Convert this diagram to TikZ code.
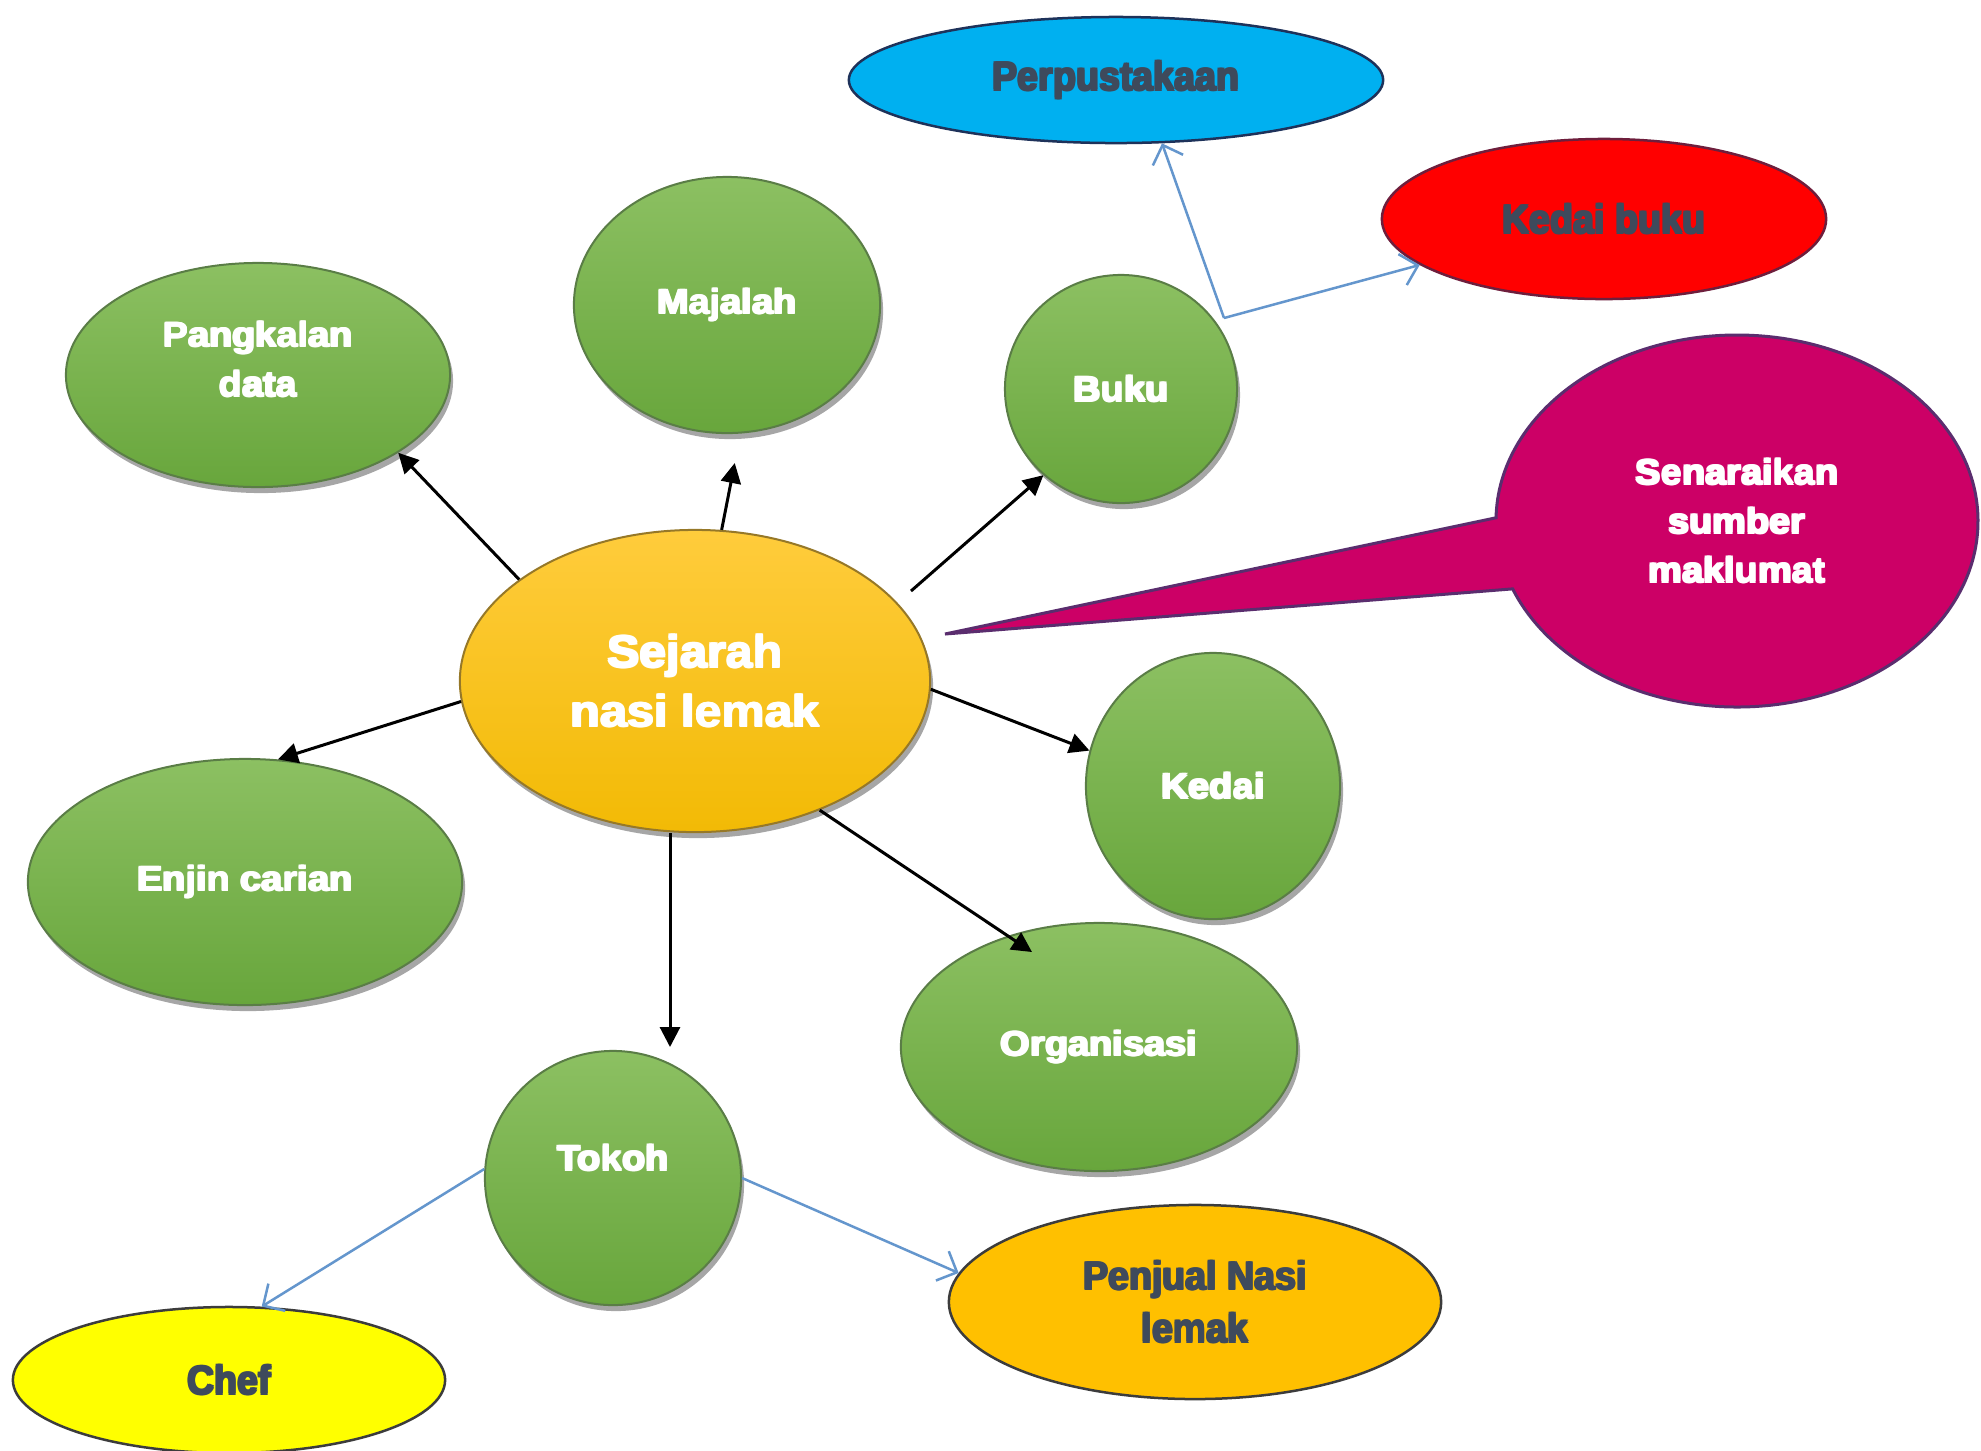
\documentclass[tikz,border=0pt]{standalone}
\usepackage{fontspec}
\setmainfont{Liberation Sans}
\newfontfamily\wfont{Liberation Sans}[FakeStretch=1.08]
\newfontfamily\dfont{Liberation Sans}[FakeStretch=0.93]
\usetikzlibrary{shapes.geometric, arrows.meta, shadows}
\newcommand\hvy[1]{\rlap{\kern-0.25pt\raisebox{0.25pt}{#1}}\rlap{\kern0.25pt\raisebox{0.25pt}{#1}}\rlap{\kern-0.25pt\raisebox{-0.25pt}{#1}}\rlap{\kern0.25pt\raisebox{-0.25pt}{#1}}#1}
\definecolor{gTop}{RGB}{140,192,98}
\definecolor{gBot}{RGB}{104,166,60}
\definecolor{gLine}{RGB}{90,125,70}
\definecolor{yTop}{RGB}{255,204,60}
\definecolor{yBot}{RGB}{242,186,5}
\definecolor{yLine}{RGB}{150,120,40}
\definecolor{darkTxt}{RGB}{62,74,92}
\definecolor{blueLn}{RGB}{100,150,205}
\definecolor{perpF}{RGB}{0,176,240}
\definecolor{perpD}{RGB}{30,50,90}
\definecolor{kbF}{RGB}{255,0,0}
\definecolor{kbD}{RGB}{110,30,60}
\definecolor{senF}{RGB}{204,0,102}
\definecolor{senD}{RGB}{90,45,110}
\definecolor{chefF}{RGB}{255,255,0}
\definecolor{penF}{RGB}{255,192,0}
\definecolor{outD}{RGB}{60,60,60}
\begin{document}
\begin{tikzpicture}[x=0.01cm, y=-0.01cm,
  base/.style={ellipse, inner sep=0pt, align=center},
  shad/.style={drop shadow={shadow xshift=0.3mm, shadow yshift=-0.6mm, fill=black, opacity=0.35}},
  wtxt/.style={align=center, text=white, font=\wfont\bfseries\fontsize{10}{14}\selectfont},
  dtxt/.style={align=center, text=darkTxt, font=\dfont\bfseries\fontsize{11.5}{15}\selectfont},
  gnode/.style={base, shad, top color=gTop, bottom color=gBot, draw=gLine, line width=0.2mm, wtxt},
  ynode/.style={base, shad, top color=yTop, bottom color=yBot, draw=yLine, line width=0.2mm, wtxt},
  onode/.style={base, line width=0.25mm, dtxt},
  blk/.style={draw=black, line width=0.3mm, -{Triangle[length=2mm, width=2mm]}},
  blu/.style={draw=blueLn, line width=0.25mm, -{Straight Barb[length=1.6mm, width=3.2mm]}}
]
\useasboundingbox (0,0) rectangle (1981,1450);
\fill[white] (0,0) rectangle (1981,1450);

% callout
\coordinate (senC) at (1737,521);
\coordinate (senTip) at (945,634);
\draw[fill=senF, draw=senD, line width=0.3mm]
  ([shift={(181:241 and 186)}]senC) arc[start angle=181, end angle=518.6, x radius=241, y radius=186]
  -- (senTip) -- cycle;
\node[wtxt] (sen) at (1737,521) {\hvy{Senaraikan}\\\hvy{sumber}\\\hvy{maklumat}};

% green nodes
\node[gnode, minimum width=3.84cm, minimum height=2.24cm] (pang) at (258,375) {};
\node[wtxt] (pangT) at (258,359) {\hvy{Pangkalan}\\\hvy{data}};
\node[gnode, minimum width=3.06cm, minimum height=2.56cm] (maj) at (727,305) {\hvy{Majalah}};
\node[gnode, minimum width=2.32cm, minimum height=2.28cm] (buku) at (1121,389) {\hvy{Buku}};
\node[gnode, minimum width=2.54cm, minimum height=2.66cm] (kedai) at (1213,786) {\hvy{Kedai}};
\node[gnode, minimum width=4.34cm, minimum height=2.46cm] (enjin) at (245,882) {\hvy{Enjin carian}};
\node[gnode, minimum width=3.96cm, minimum height=2.48cm] (org) at (1099,1047) {\hvy{Organisasi}};
\node[gnode, minimum width=2.56cm, minimum height=2.54cm] (tokoh) at (613,1178) {};
\node[wtxt] (tokohT) at (613,1158) {\hvy{Tokoh}};

% centre
\node[ynode, minimum width=4.70cm, minimum height=3.02cm, font=\wfont\bfseries\fontsize{12.8}{17}\selectfont] (sej) at (695,681) {\hvy{Sejarah}\\\hvy{nasi lemak}};

% coloured leaves
\node[onode, fill=perpF, draw=perpD, minimum width=5.34cm, minimum height=1.26cm] (perp) at (1116,80) {\hvy{Perpustakaan}};
\node[onode, fill=kbF, draw=kbD, minimum width=4.44cm, minimum height=1.60cm] (kb) at (1604,219) {\hvy{Kedai buku}};
\node[onode, fill=chefF, draw=outD, minimum width=4.32cm, minimum height=1.46cm] (chef) at (229,1380) {\hvy{Chef}};
\node[onode, fill=penF, draw=outD, minimum width=4.92cm, minimum height=1.94cm] (pen) at (1195,1302) {\hvy{Penjual Nasi}\\\hvy{lemak}};

% black arrows
\coordinate (orgIn) at (1032,952);
\coordinate (tokIn) at (670,1047);
\coordinate (bukS) at (911,591);
\draw[blk] (sej.150) -- (pang.-29);
\draw[blk, shorten >=3mm] (sej.80) -- (maj.-84);
\draw[blk] (bukS) -- (buku.-132);
\draw[blk] (sej.-2) -- (kedai.164);
\draw[blk] (sej.-46) -- (orgIn);
\draw[blk] (sej.south -| tokIn) -- (tokIn);
\draw[blk] (sej.185) -- (enjin.75);

% blue arrows
\coordinate (bk) at (1224,318);
\draw[blu] (bk) -- (perp.-54);
\draw[blu] (bk) -- (kb.194);
\draw[blu] (tokoh.176) -- (chef.66);
\draw[blu] (tokoh.0) -- (pen.173);
\end{tikzpicture}
\end{document}
